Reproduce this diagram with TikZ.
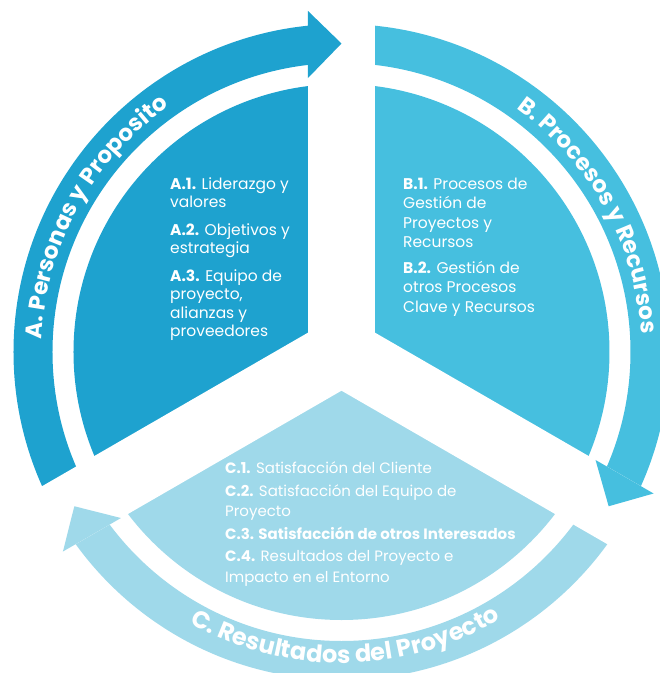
\documentclass[tikz,border=0pt]{standalone}
\usepackage{fontspec}
\setmainfont{Poppins}
\usetikzlibrary{decorations.text}
\definecolor{colA}{HTML}{1EA2CF}
\definecolor{colB}{HTML}{46BFDF}
\definecolor{colC}{HTML}{9FD9EA}
\tikzset{
  blocktext/.style={align=left, inner sep=0pt, text=white, anchor=north west},
  gapstrip/.style={white, line width=67pt},
}
\begin{document}
\begin{tikzpicture}[x=1pt, y=1pt]
\useasboundingbox (-341.5,-321) rectangle (318.5,352);
% sector A
\begin{scope}
\clip (0,0) -- (90:1000) -- (150:1000) -- (210:1000) -- cycle;
\fill[colA, even odd rule] (0,0) circle [radius=268] (0,0) circle [radius=289] (0,0) circle [radius=328];
\end{scope}
% sector B
\begin{scope}
\clip (0,0) -- (90:1000) -- (30:1000) -- (-30:1000) -- cycle;
\fill[colB, even odd rule] (0,0) circle [radius=268] (0,0) circle [radius=289] (0,0) circle [radius=328];
\end{scope}
% sector C
\begin{scope}
\clip (0,0) -- (210:1000) -- (270:1000) -- (330:1000) -- cycle;
\fill[colC, even odd rule] (0,0) circle [radius=268] (0,0) circle [radius=289] (0,0) circle [radius=328];
\end{scope}
% white gaps
\foreach \a in {90,210,330} \draw[gapstrip] (0,0) -- (\a:420);
% arrow heads
\fill[colA] (-33.5,341) -- (0,308.5) -- (-33.5,274) -- cycle;
\fill[colB, rotate=-120] (-33.5,341) -- (0,308.5) -- (-33.5,274) -- cycle;
\fill[colC, rotate=120] (-33.5,341) -- (0,308.5) -- (-33.5,274) -- cycle;
% curved titles
\path[decorate, decoration={text along path, text align=center,
  text={|\bfseries\fontsize{23}{23}\selectfont\color{white}|A. Personas y Proposito}}]
  (181.3:300) arc[start angle=181.3, end angle=121.3, radius=300];
\path[decorate, decoration={text along path, text align=center,
  text={|\bfseries\fontsize{23}{23}\selectfont\color{white}|B. Procesos y Recursos}}]
  (58.9:300) arc[start angle=58.9, end angle=-1.1, radius=300];
\path[decorate, decoration={text along path, text align=center,
  text={|\bfseries\fontsize{24}{24}\selectfont\color{white}|C. Resultados del Proyecto}}]
  (240.75:311) arc[start angle=240.75, end angle=300.75, radius=311];
% inner texts
\node[blocktext, font=\fontsize{15.5}{18.5}\selectfont] (ta) at (-171.5,174.5)
  {\textbf{A.1.} Liderazgo y\\ valores\\[9pt]
   \textbf{A.2.} Objetivos y\\ estrategia\\[9pt]
   \textbf{A.3.} Equipo de\\ proyecto,\\ alianzas y\\ proveedores};
\node[blocktext, font=\fontsize{15.5}{19.5}\selectfont] (tb) at (61.5,174.5)
  {\textbf{B.1.} Procesos de\\ Gestión de\\ Proyectos y\\ Recursos\\[6pt]
   \textbf{B.2.} Gestión de\\ otros Procesos\\ Clave y Recursos};
\node[blocktext, font=\fontsize{15}{20.5}\selectfont] (tc) at (-116.5,-109.5)
  {\textbf{C.1.} Satisfacción del Cliente\\[2pt]
   \textbf{C.2.} Satisfacción del Equipo de\\ Proyecto\\[2pt]
   \textbf{C.3. Satisfacción de otros Interesados}\\[2pt]
   \textbf{C.4.} Resultados del Proyecto e\\ Impacto en el Entorno};
\end{tikzpicture}
\end{document}
